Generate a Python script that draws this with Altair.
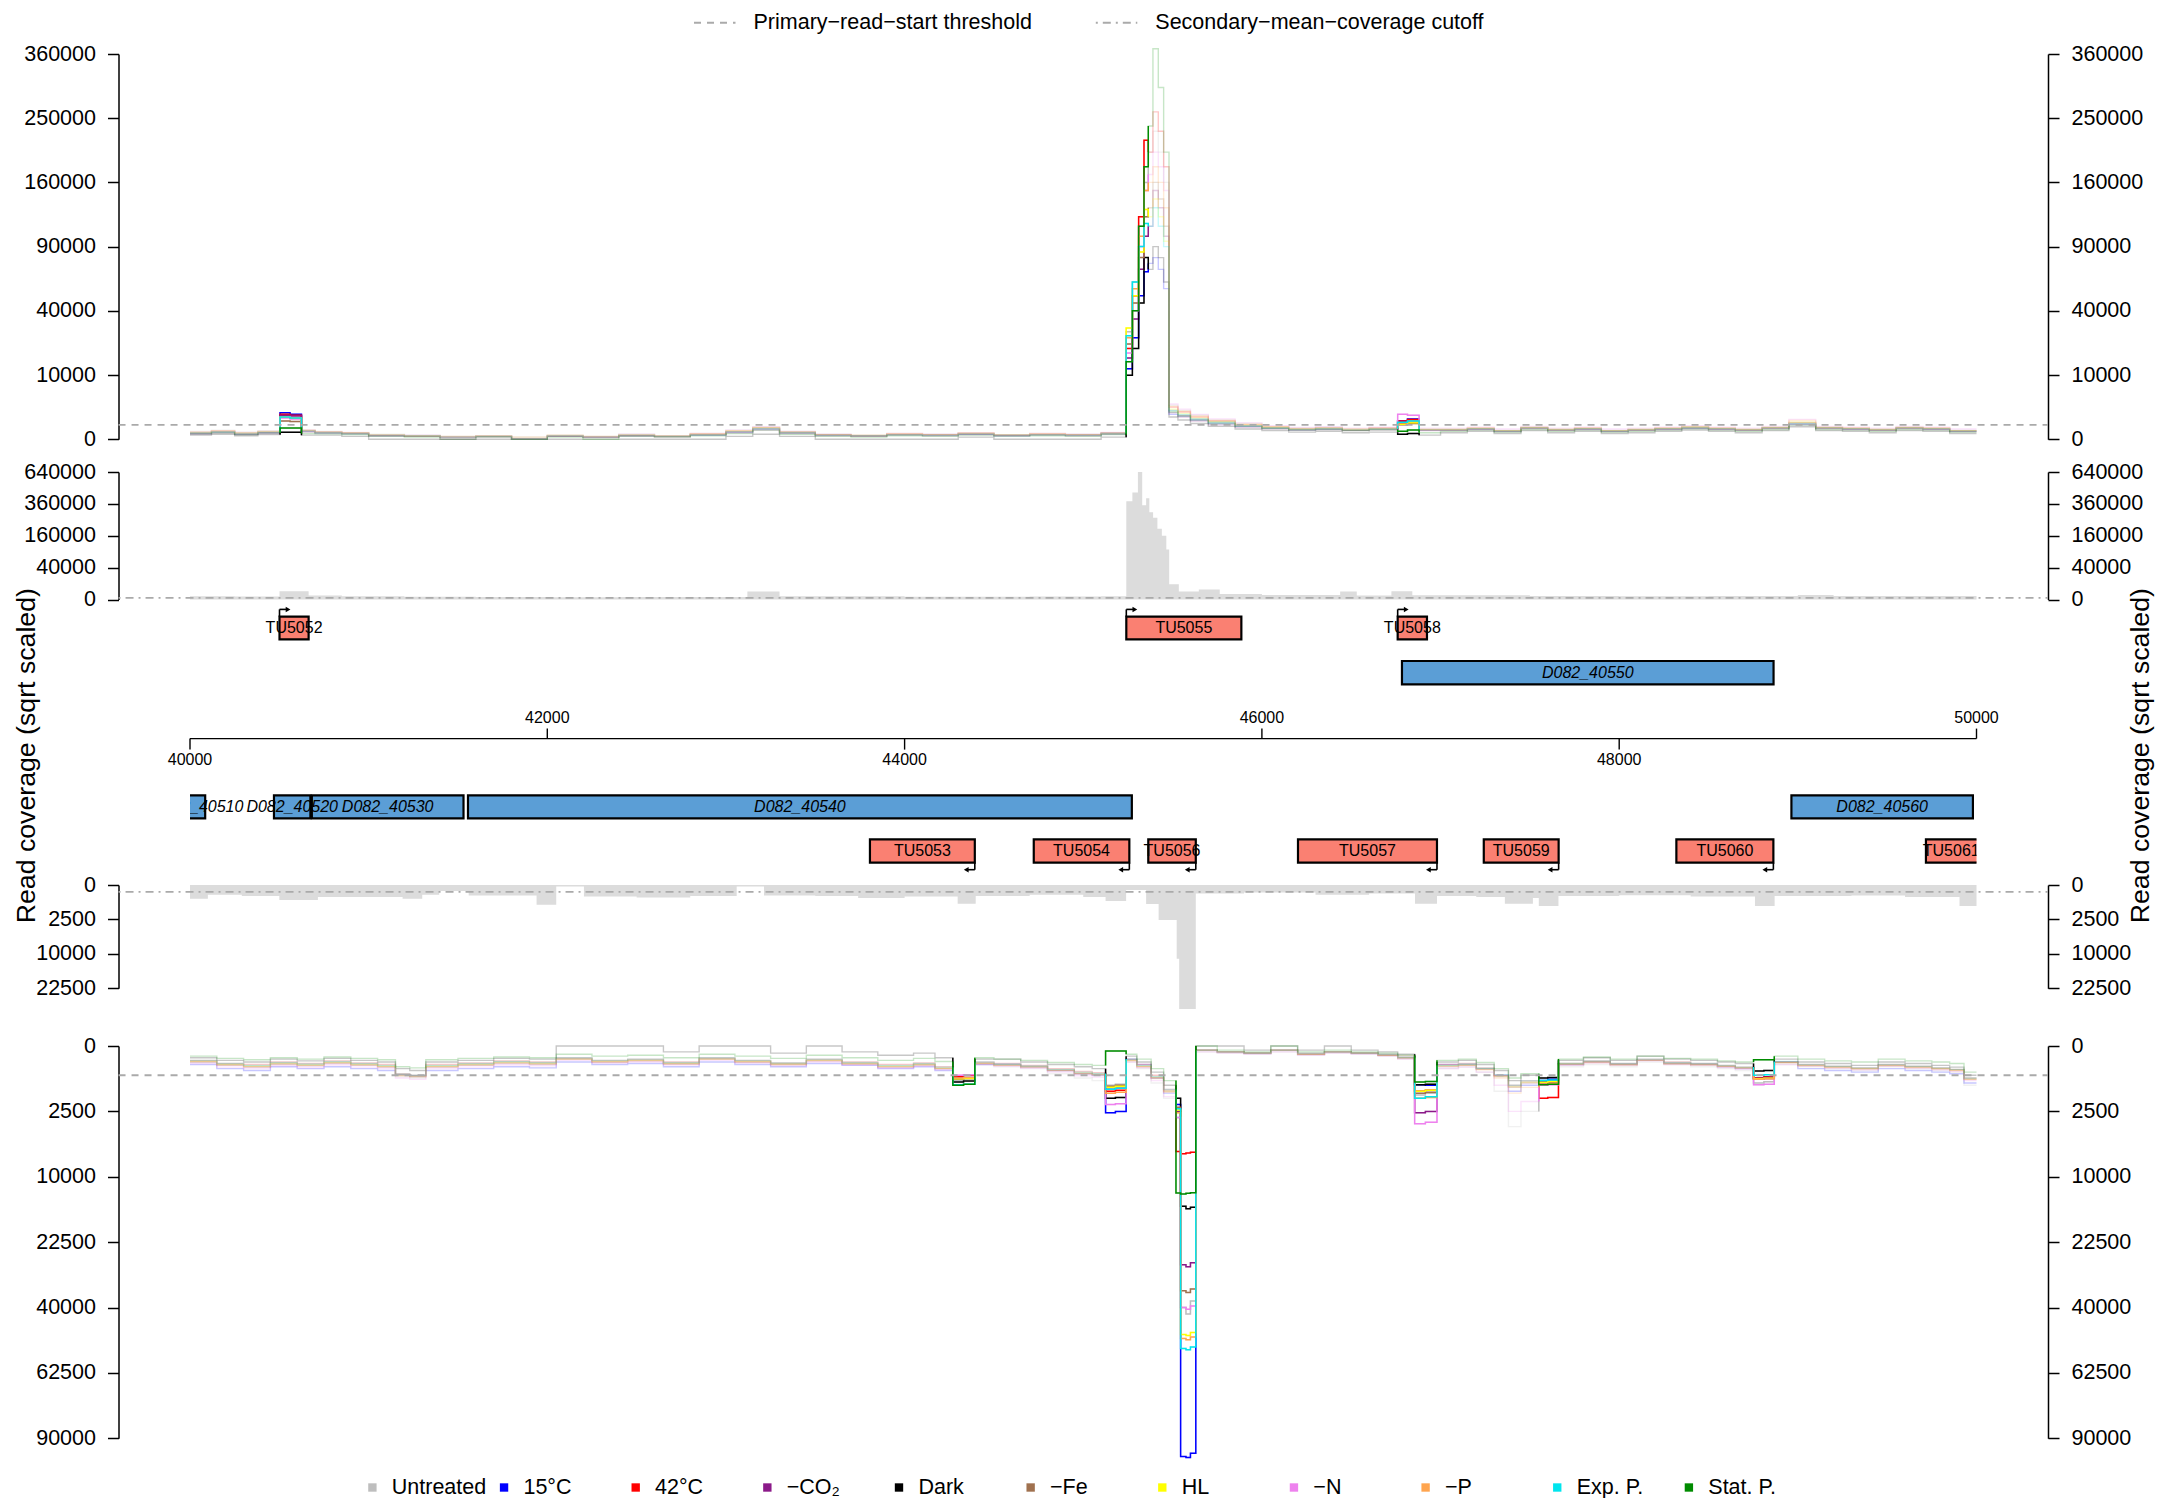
import altair as alt
import pandas as pd

FONT = "Liberation Sans"
Y_TITLE = "Read coverage (sqrt scaled)"

# ---------------- categories / colours ----------------
CONDITIONS = ["Untreated", "15°C", "42°C", "−CO₂", "Dark", "−Fe", "HL", "−N", "−P", "Exp. P.", "Stat. P."]
COLORS = ["#bebebe", "#0000ff", "#ff0000", "#8b1a89", "#000000", "#a0714f",
          "#ffff00", "#ee82ee", "#ffa54f", "#00e5ee", "#008b00"]
THRESHOLD_LABELS = ["Primary−read−start threshold", "Secondary−mean−coverage cutoff"]
PRIMARY_THRESHOLD = 500
SECONDARY_CUTOFF = 100

FWD_TICKS = [0, 10000, 40000, 90000, 160000, 250000, 360000]
FWD_MEAN_TICKS = [0, 40000, 160000, 360000, 640000]
REV_MEAN_TICKS = [0, 2500, 10000, 22500]
REV_TICKS = [0, 2500, 10000, 22500, 40000, 62500, 90000]
GENOME_TICKS = [40000, 42000, 44000, 46000, 48000, 50000]
VIEW = [40000, 50000]
XLIM = [39600, 50400]

# ---------------- forward strand read starts ----------------
FWD_X = [40000, 40120, 40250, 40380, 40504, 40560, 40624, 40700, 40850,
         41000, 41200, 41400, 41600, 41800, 42000, 42200, 42400, 42600, 42800, 43000,
         43150, 43300, 43500, 43700, 43900, 44100, 44300, 44500, 44700, 44900, 45100,
         45240, 45275, 45310, 45340, 45364,
         45390, 45420, 45450, 45480,
         45530, 45600, 45700, 45850, 46000, 46150, 46300, 46450, 46600,
         46760, 46815, 46880,
         47000, 47150, 47300, 47450, 47600, 47750, 47900, 48050, 48200, 48350, 48500,
         48650, 48800, 48950, 49100, 49250, 49400, 49550, 49700, 49850, 50000]
FWD_WINDOWS = [(40504, 40624), (45240, 45364), (46760, 46880)]

FWD_UNTREATED = [150, 200, 120, 180, 1300, 1100, 200, 150, 100,
                 60, 40, 20, 30, 10, 40, 20, 60, 30, 80, 200,
                 350, 150, 60, 40, 80, 60, 100, 50, 80, 60, 100,
                 28000, 60000, 110000, 160000, 200000,
                 230000, 200000, 160000, 2800,
                 2000, 1400, 900, 600, 400, 300, 350, 250, 300,
                 700, 900, 250,
                 250, 300, 200, 350, 250, 300, 200, 250, 300, 400, 300, 250, 350, 700, 350, 300, 250, 350, 300, 200, 200]
FWD_15C = [80, 120, 60, 100, 1700, 1500, 150, 100, 80,
           30, 20, 10, 20, 0, 20, 10, 30, 20, 40, 120,
           250, 100, 40, 30, 50, 40, 60, 30, 50, 40, 80,
           12000, 25000, 50000, 68000, 75000,
           80000, 70000, 55000, 1500,
           1300, 900, 600, 400, 300, 200, 250, 200, 250,
           800, 1000, 200,
           200, 250, 150, 300, 200, 250, 150, 200, 250, 300, 250, 200, 300, 550, 300, 250, 200, 300, 250, 150, 150]
FWD_42C = [100, 150, 80, 120, 1500, 1400, 180, 120, 90,
           40, 30, 10, 20, 0, 30, 10, 40, 20, 60, 150,
           300, 120, 50, 30, 60, 50, 80, 40, 60, 50, 90,
           20000, 50000, 120000, 217000, 200000,
           260000, 230000, 180000, 2500,
           1800, 1200, 800, 500, 350, 250, 300, 200, 300,
           800, 950, 220,
           220, 280, 180, 320, 220, 280, 180, 220, 280, 350, 280, 220, 320, 650, 320, 280, 220, 320, 280, 180, 180]
FWD_CO2 = [60, 90, 50, 80, 1400, 1300, 120, 90, 70,
           30, 20, 0, 10, 0, 20, 10, 30, 10, 40, 100,
           200, 80, 30, 20, 40, 30, 50, 30, 40, 30, 60,
           16000, 35000, 70000, 100000, 110000,
           150000, 130000, 100000, 1700,
           1200, 800, 500, 350, 250, 200, 220, 180, 200,
           600, 750, 180,
           180, 220, 140, 260, 180, 220, 140, 180, 220, 280, 220, 180, 260, 500, 260, 220, 180, 260, 220, 140, 140]
FWD_DARK = [40, 60, 30, 50, 120, 120, 40, 40, 20,
            0, 0, 0, 0, 0, 0, 0, 0, 0, 0, 20,
            60, 20, 0, 0, 0, 0, 10, 0, 0, 0, 10,
            9900, 20000, 45000, 80000, 70000,
            90000, 80000, 60000, 1200,
            900, 600, 400, 250, 180, 120, 150, 100, 120,
            60, 80, 40,
            100, 150, 80, 180, 100, 150, 80, 100, 150, 200, 150, 100, 180, 380, 180, 150, 100, 180, 150, 80, 80]
FWD_FE = [90, 130, 70, 110, 800, 750, 150, 100, 80,
          30, 20, 10, 20, 0, 20, 10, 30, 20, 50, 130,
          260, 100, 40, 30, 50, 40, 70, 40, 50, 40, 80,
          22000, 45000, 80000, 120000, 130000,
          160000, 140000, 110000, 2000,
          1400, 1000, 700, 450, 300, 220, 260, 200, 240,
          500, 600, 200,
          200, 260, 160, 300, 200, 260, 160, 200, 260, 320, 260, 200, 300, 600, 300, 260, 200, 300, 260, 160, 160]
FWD_HL = [120, 170, 100, 150, 1200, 1100, 200, 130, 100,
          50, 30, 20, 30, 10, 40, 20, 50, 30, 70, 180,
          320, 130, 50, 40, 70, 50, 90, 50, 70, 50, 90,
          30000, 50000, 85000, 128000, 120000,
          140000, 120000, 95000, 2200,
          1600, 1100, 750, 500, 350, 260, 300, 230, 280,
          550, 650, 230,
          230, 290, 180, 330, 230, 290, 180, 230, 290, 360, 290, 230, 330, 700, 330, 290, 230, 330, 290, 180, 180]
FWD_N = [130, 180, 110, 160, 1100, 1000, 220, 140, 110,
         50, 40, 20, 30, 10, 40, 20, 60, 30, 80, 200,
         380, 150, 60, 40, 80, 60, 100, 50, 80, 60, 110,
         18000, 40000, 90000, 150000, 170000,
         200000, 180000, 150000, 3000,
         2200, 1500, 1000, 650, 450, 330, 380, 300, 350,
         1500, 1400, 300,
         300, 350, 250, 400, 300, 350, 250, 300, 350, 450, 350, 300, 400, 950, 400, 350, 300, 400, 350, 250, 250]
FWD_P = [110, 160, 90, 140, 1200, 1100, 180, 120, 90,
         40, 30, 10, 20, 0, 30, 10, 40, 20, 60, 160,
         340, 120, 50, 30, 60, 50, 80, 40, 60, 50, 90,
         25000, 55000, 100000, 150000, 160000,
         180000, 160000, 130000, 2600,
         1900, 1300, 850, 550, 380, 280, 320, 250, 300,
         650, 750, 230,
         230, 290, 180, 330, 230, 290, 180, 230, 290, 360, 290, 230, 330, 850, 330, 290, 230, 330, 290, 180, 180]
FWD_EXP = [100, 140, 80, 120, 1190, 1100, 170, 110, 80,
           40, 30, 10, 20, 0, 30, 10, 40, 20, 50, 140,
           280, 110, 40, 30, 50, 40, 70, 40, 50, 40, 80,
           26000, 60000, 90000, 113000, 110000,
           130000, 110000, 90000, 2000,
           1500, 1000, 700, 450, 320, 240, 280, 210, 260,
           700, 800, 210,
           210, 270, 170, 310, 210, 270, 170, 210, 270, 330, 270, 210, 310, 600, 310, 270, 210, 310, 270, 170, 170]
FWD_STAT = [70, 100, 50, 90, 300, 300, 80, 70, 50,
            20, 10, 0, 10, 0, 10, 0, 20, 10, 30, 80,
            200, 60, 20, 10, 30, 20, 40, 20, 30, 20, 50,
            14600, 40000, 110000, 180000, 238000,
            370000, 300000, 200000, 1800,
            1300, 900, 600, 400, 280, 200, 230, 180, 220,
            150, 200, 100,
            150, 200, 120, 230, 150, 200, 120, 150, 200, 260, 200, 150, 230, 480, 230, 200, 150, 230, 200, 120, 120]

# ---------------- reverse strand read starts ----------------
REV_X = [40000, 40150, 40300, 40450, 40600, 40750, 40900, 41050, 41150, 41230, 41320, 41500, 41700, 41900,
         42050, 42250, 42450, 42650, 42850, 43050, 43250, 43450, 43650, 43850, 44050, 44170,
         44270, 44330, 44393,
         44500, 44650, 44800, 44950, 45050,
         45125, 45180, 45240,
         45300, 45380, 45450,
         45519, 45545, 45575, 45600, 45630,
         45750, 45900, 46050, 46200, 46350, 46500, 46650, 46760,
         46855, 46915, 46980,
         47100, 47200, 47300, 47380, 47450,
         47550, 47600, 47660,
         47800, 47950, 48100, 48250, 48400, 48550, 48650,
         48752, 48810, 48868,
         49000, 49150, 49300, 49450, 49600, 49750, 49850, 49930, 50000]
REV_WINDOWS = [(44270, 44393), (45125, 45240), (45519, 45630), (46855, 46980), (47550, 47660), (48752, 48868)]

REV_UNTREATED = [150, 200, 250, 180, 220, 160, 200, 250, 550, 600, 250, 200, 150, 180,
                 100, 150, 120, 180, 100, 150, 200, 120, 180, 250, 200, 300,
                 700, 650, 200,
                 250, 300, 450, 600, 700,
                 900, 850, 150,
                 300, 800, 1600,
                 3000, 40000, 42000, 38000, 20,
                 30, 40, 20, 50, 30, 40, 60, 100,
                 1400, 1300, 300,
                 250, 400, 1200, 3800, 2500,
                 900, 850, 250,
                 200, 250, 150, 200, 250, 300, 350,
                 800, 750, 200,
                 250, 300, 350, 250, 300, 350, 400, 900, 900]
REV_15C = [200, 300, 350, 250, 300, 250, 300, 350, 500, 550, 350, 300, 250, 280,
           150, 200, 180, 250, 150, 200, 250, 180, 220, 300, 250, 350,
           650, 600, 200,
           200, 250, 350, 450, 500,
           2600, 2500, 100,
           200, 600, 1300,
           2000, 98600, 99000, 97000, 10,
           20, 30, 10, 40, 20, 30, 50, 80,
           880, 900, 200,
           200, 300, 500, 1200, 900,
           700, 650, 200,
           150, 200, 120, 180, 200, 250, 300,
           600, 550, 150,
           300, 350, 400, 300, 350, 400, 450, 800, 800]
REV_42C = [120, 180, 200, 150, 180, 130, 170, 200, 450, 500, 200, 170, 130, 150,
           80, 120, 100, 150, 80, 120, 170, 100, 150, 200, 170, 250,
           550, 500, 150,
           180, 220, 300, 380, 420,
           1200, 1150, 100,
           200, 500, 1100,
           6500, 6800, 6700, 6600, 10,
           20, 30, 10, 30, 20, 30, 40, 60,
           1200, 1150, 200,
           180, 280, 500, 900, 700,
           1600, 1550, 180,
           130, 180, 100, 150, 180, 220, 260,
           600, 560, 150,
           200, 240, 280, 200, 240, 280, 320, 600, 600]
REV_CO2 = [150, 220, 260, 200, 230, 180, 220, 260, 480, 520, 260, 220, 180, 200,
           100, 150, 130, 190, 100, 150, 200, 130, 190, 260, 210, 300,
           600, 580, 180,
           220, 260, 350, 450, 480,
           1100, 1050, 120,
           250, 600, 1200,
           2500, 28000, 28500, 27500, 10,
           20, 30, 10, 40, 20, 30, 50, 80,
           2600, 2500, 250,
           220, 320, 550, 1000, 800,
           800, 780, 200,
           150, 200, 120, 180, 200, 240, 280,
           650, 620, 160,
           220, 260, 300, 220, 260, 300, 340, 650, 650]
REV_DARK = [80, 120, 150, 100, 130, 90, 120, 150, 300, 350, 150, 120, 90, 100,
            0, 0, 0, 20, 0, 0, 30, 0, 20, 50, 30, 80,
            760, 720, 100,
            100, 150, 200, 250, 300,
            1600, 1550, 60,
            150, 400, 900,
            1600, 15000, 15500, 15200, 0,
            0, 10, 0, 10, 0, 10, 20, 40,
            880, 850, 150,
            120, 200, 350, 700, 500,
            600, 580, 120,
            80, 120, 60, 100, 120, 150, 180,
            365, 350, 100,
            150, 180, 220, 150, 180, 220, 260, 500, 500]
REV_FE = [130, 190, 230, 170, 200, 150, 190, 230, 470, 520, 230, 190, 150, 170,
          90, 130, 110, 170, 90, 130, 180, 110, 170, 230, 190, 280,
          620, 600, 170,
          200, 240, 330, 420, 460,
          950, 900, 110,
          230, 560, 1150,
          2200, 35000, 35500, 34500, 10,
          20, 30, 10, 40, 20, 30, 50, 80,
          1300, 1250, 220,
          200, 300, 520, 950, 750,
          750, 720, 180,
          140, 190, 110, 170, 190, 230, 270,
          620, 600, 150,
          210, 250, 290, 210, 250, 290, 330, 620, 620]
REV_HL = [140, 200, 240, 180, 210, 160, 200, 240, 500, 540, 240, 200, 160, 180,
          100, 140, 120, 180, 100, 140, 190, 120, 180, 240, 200, 290,
          640, 620, 180,
          210, 250, 340, 430, 470,
          1000, 950, 120,
          240, 580, 1200,
          2400, 48700, 49000, 48000, 10,
          20, 30, 10, 40, 20, 30, 50, 80,
          1200, 1150, 230,
          210, 310, 540, 980, 780,
          780, 750, 190,
          150, 200, 120, 180, 200, 240, 280,
          630, 610, 160,
          220, 260, 300, 220, 260, 300, 340, 640, 640]
REV_N = [180, 260, 300, 230, 270, 210, 260, 300, 600, 650, 300, 260, 210, 230,
         120, 170, 150, 210, 120, 170, 230, 150, 210, 290, 240, 330,
         500, 480, 200,
         240, 290, 400, 520, 560,
         2000, 1950, 150,
         280, 700, 1500,
         3000, 40000, 40500, 39500, 20,
         30, 40, 20, 50, 30, 40, 60, 100,
         3530, 3400, 300,
         260, 400, 900, 2500, 1800,
         900, 880, 220,
         170, 220, 130, 200, 220, 270, 310,
         882, 850, 200,
         240, 290, 330, 240, 290, 330, 380, 700, 700]
REV_P = [140, 210, 250, 190, 220, 170, 210, 250, 520, 560, 250, 210, 170, 190,
         100, 150, 130, 190, 100, 150, 200, 130, 190, 250, 210, 300,
         600, 580, 180,
         220, 260, 350, 450, 490,
         1300, 1250, 130,
         250, 620, 1250,
         2600, 50000, 50500, 49500, 10,
         20, 30, 10, 40, 20, 30, 50, 80,
         1600, 1550, 240,
         220, 330, 600, 1300, 1000,
         850, 820, 200,
         160, 210, 120, 190, 210, 250, 290,
         650, 630, 160,
         230, 270, 310, 230, 270, 310, 350, 660, 660]
REV_EXP = [120, 180, 220, 160, 190, 140, 180, 220, 460, 500, 220, 180, 140, 160,
           80, 120, 100, 160, 80, 120, 170, 100, 160, 220, 180, 260,
           880, 850, 150,
           190, 230, 320, 400, 440,
           1100, 1050, 100,
           220, 540, 1100,
           2300, 53500, 54000, 53000, 10,
           20, 30, 10, 30, 20, 30, 40, 70,
           1600, 1500, 220,
           190, 290, 480, 900, 700,
           700, 680, 180,
           130, 180, 100, 160, 180, 220, 260,
           500, 480, 140,
           200, 240, 280, 200, 240, 280, 320, 600, 600]
REV_STAT = [60, 90, 110, 80, 100, 70, 90, 110, 250, 280, 110, 90, 70, 80,
            40, 60, 50, 80, 40, 60, 90, 50, 80, 120, 90, 140,
            900, 860, 80,
            100, 120, 160, 200, 220,
            15, 15, 40,
            100, 300, 700,
            12650, 12800, 12700, 12600, 0,
            10, 20, 0, 20, 10, 20, 30, 50,
            760, 740, 120,
            100, 160, 300, 600, 450,
            880, 860, 100,
            70, 100, 60, 90, 100, 130, 150,
            112, 110, 60,
            100, 130, 150, 100, 130, 150, 180, 400, 400]

# ---------------- mean coverage ----------------
FWD_MEAN_X = [40000, 40250, 40501, 40664, 40850, 41200, 41600, 42000, 42400, 43120, 43300, 44000, 44700,
              45100, 45241, 45275, 45306, 45330, 45352, 45370, 45391, 45415, 45440, 45465, 45481, 45535,
              45647, 45764, 46000, 46438, 46531, 46725, 46842, 47500, 48000, 48500, 49000, 49200, 50000]
FWD_MEAN_Y = [400, 350, 2700, 600, 400, 300, 250, 200, 250, 2500, 400, 300, 350,
              400, 381000, 450000, 640000, 350000, 403000, 300000, 263000, 197000, 160000, 98000, 9200, 2500,
              3900, 1200, 800, 2500, 600, 2700, 700, 500, 400, 450, 800, 450, 450]
REV_MEAN_X = [40000, 40100, 40290, 40500, 40716, 41190, 41300, 41395, 41560, 41940, 42050, 42205, 42500,
              42800, 43060, 43213, 43500, 43740, 44000, 44297, 44398, 44700, 45000, 45125, 45240, 45352,
              45422, 45523, 45537, 45630, 45900, 46300, 46600, 46857, 46980, 47200, 47360, 47517, 47550,
              47660, 48000, 48400, 48760, 48870, 49300, 49600, 49905, 50000]
REV_MEAN_Y = [395, 198, 255, 474, 300, 395, 198, 76, 230, 817, 5, 280, 330,
              250, 5, 230, 260, 350, 280, 745, 250, 200, 300, 540, 53, 760,
              2580, 11500, 32400, 150, 120, 200, 150, 745, 250, 300, 745, 350, 930,
              250, 220, 280, 930, 260, 230, 300, 930, 930]

# ---------------- annotation ----------------
FWD_TU_NAMES = ["TU5052", "TU5055", "TU5058"]
FWD_TU_START = [40501, 45241, 46760]
FWD_TU_END = [40664, 45885, 46924]
FWD_GENE_NAMES = ["D082_40550"]
FWD_GENE_START = [46784]
FWD_GENE_END = [48864]
REV_GENE_NAMES = ["D082_40510", "D082_40520", "D082_40530", "D082_40540", "D082_40560"]
REV_GENE_START = [39700, 40470, 40682, 41556, 48964]
REV_GENE_END = [40085, 40674, 41531, 45272, 49980]
REV_TU_NAMES = ["TU5053", "TU5054", "TU5056", "TU5057", "TU5059", "TU5060", "TU5061"]
REV_TU_START = [43806, 44723, 45364, 46202, 47242, 48320, 49717]
REV_TU_END = [44393, 45258, 45630, 46980, 47661, 48863, 50150]

FWD_SERIES = dict(zip(CONDITIONS, [FWD_UNTREATED, FWD_15C, FWD_42C, FWD_CO2, FWD_DARK, FWD_FE,
                                   FWD_HL, FWD_N, FWD_P, FWD_EXP, FWD_STAT]))
REV_SERIES = dict(zip(CONDITIONS, [REV_UNTREATED, REV_15C, REV_42C, REV_CO2, REV_DARK, REV_FE,
                                   REV_HL, REV_N, REV_P, REV_EXP, REV_STAT]))

# ---------------- layout (pixels) ----------------
PLOT_W = 1786.5
PAD_TOP = 3
H_TOPLEG, H_P1, GAP1, H_P2, H_ANN, H_P3, GAP2, H_P4, H_BOTLEG = 41.7, 385.2, 31.9, 127.5, 284.7, 103.3, 56.7, 392.3, 56
AXIS_OFFSET = 71.5
THRESH_COLOR = "#aaaaaa"
DASH = [7, 6]
DASHDOT = [2, 5, 8, 5]
AREA_GREY = "#dcdcdc"
SALMON = "#fa8072"
GENE_BLUE = "#5b9ed6"
FADED_OPACITY = 0.22
ROWS = {"fwd_tu": (16.7, 39.4), "fwd_gene": (61.0, 84.4), "rev_gene": (195.4, 218.4), "rev_tu": (239.4, 262.7)}
AXIS_Y, TICK_UP, TICK_DOWN, LAB_UP, LAB_DOWN = 138.6, 10, 11, 118.2, 159.7
ARROW_FWD_Y, ARROW_REV_Y, ARROW_LEN, HEAD_POS = 9.4, 269.7, 40, 48

XSC = alt.Scale(domain=VIEW, nice=False, zero=False)
X_ENC = alt.X("x:Q", scale=XSC, axis=None)
COLOR = alt.Color("cond:N", scale=alt.Scale(domain=CONDITIONS, range=COLORS), legend=None)


def y_axis(ticks, orient):
    return alt.Axis(orient=orient, values=ticks, format="d", offset=AXIS_OFFSET,
                    tickSize=11, tickWidth=1.5, tickColor="black",
                    domainColor="black", domainWidth=1.5,
                    labelFont=FONT, labelFontSize=21.5, labelColor="black",
                    labelPadding=12, labelFlush=False, labelOverlap=False,
                    grid=False, title=None)


def series_frame(xs, table):
    rows = []
    for cond in CONDITIONS:
        for i, (x, v) in enumerate(zip(xs, table[cond])):
            rows.append({"cond": cond, "x": x, "v": v, "o": i})
    return pd.DataFrame(rows)


def window_frame(xs, table, windows):
    rows = []
    for cond in CONDITIONS:
        vals = table[cond]
        for w, (a, b) in enumerate(windows):
            before = [v for x, v in zip(xs, vals) if x < a]
            pts = [(a, before[-1])] if before else []
            pts += [(x, v) for x, v in zip(xs, vals) if a <= x <= b]
            for k, (x, v) in enumerate(pts):
                rows.append({"cond": cond, "seg": f"{cond}-{w}", "x": x, "v": v, "o": k})
    return pd.DataFrame(rows)


def threshold_rule(value, dash, ysc, axis):
    df = pd.DataFrame({"x": [XLIM[0]], "x2": [XLIM[1]], "v": [value]})
    return alt.Chart(df).mark_rule(color=THRESH_COLOR, strokeWidth=1.8, strokeDash=dash).encode(
        x=X_ENC, x2=alt.X2("x2"), y=alt.Y("v:Q", scale=ysc, axis=axis))


def read_start_panel(xs, table, windows, ticks, reverse, height):
    ysc = alt.Scale(type="sqrt", domain=[0, ticks[-1]], reverse=reverse, nice=False)
    faded = alt.Chart(series_frame(xs, table)).mark_line(
        interpolate="step-after", strokeWidth=1.4, opacity=FADED_OPACITY).encode(
        x=X_ENC, y=alt.Y("v:Q", scale=ysc, axis=y_axis(ticks, "left")),
        color=COLOR, detail="cond:N", order="o:Q")
    strong = alt.Chart(window_frame(xs, table, windows)).mark_line(
        interpolate="step-after", strokeWidth=1.5).encode(
        x=X_ENC, y=alt.Y("v:Q", scale=ysc, axis=None),
        color=COLOR, detail="seg:N", order="o:Q")
    rule = threshold_rule(PRIMARY_THRESHOLD, DASH, ysc, y_axis(ticks, "right"))
    return alt.layer(faded, strong, rule).resolve_scale(y="independent").properties(
        width=PLOT_W, height=height)


def mean_panel(xs, ys, ticks, reverse, height):
    ysc = alt.Scale(type="sqrt", domain=[0, ticks[-1]], reverse=reverse, nice=False)
    area = alt.Chart(pd.DataFrame({"x": xs, "v": ys})).mark_area(
        interpolate="step-after", color=AREA_GREY, opacity=1).encode(
        x=X_ENC, y=alt.Y("v:Q", scale=ysc, axis=y_axis(ticks, "left")))
    rule = threshold_rule(SECONDARY_CUTOFF, DASHDOT, ysc, y_axis(ticks, "right"))
    return alt.layer(area, rule).resolve_scale(y="independent").properties(width=PLOT_W, height=height)


# ---------------- annotation panel ----------------
def feature_rows(names, starts, ends, kind, row):
    y1, y2 = ROWS[row]
    out = []
    for n, s, e in zip(names, starts, ends):
        out.append({"name": n, "start": s, "end": e, "kind": kind, "y1": y1, "y2": y2,
                    "ly": (y1 + y2) / 2, "lx": (max(s, VIEW[0]) + min(e, VIEW[1])) / 2})
    return out


feat = pd.DataFrame(
    feature_rows(FWD_TU_NAMES, FWD_TU_START, FWD_TU_END, "TU", "fwd_tu")
    + feature_rows(FWD_GENE_NAMES, FWD_GENE_START, FWD_GENE_END, "gene", "fwd_gene")
    + feature_rows(REV_GENE_NAMES, REV_GENE_START, REV_GENE_END, "gene", "rev_gene")
    + feature_rows(REV_TU_NAMES, REV_TU_START, REV_TU_END, "TU", "rev_tu"))

arrows = []
for s in FWD_TU_START:
    if VIEW[0] <= s <= VIEW[1]:
        arrows.append({"x": s, "xe": s + ARROW_LEN, "xh": s + HEAD_POS, "yb": ROWS["fwd_tu"][0],
                       "ya": ARROW_FWD_Y, "dir": "fwd"})
for e in REV_TU_END:
    if VIEW[0] <= e <= VIEW[1]:
        arrows.append({"x": e, "xe": e - ARROW_LEN, "xh": e - HEAD_POS, "yb": ROWS["rev_tu"][1],
                       "ya": ARROW_REV_Y, "dir": "rev"})
arrows = pd.DataFrame(arrows)

gticks = pd.DataFrame({"x": GENOME_TICKS, "lab": [str(t) for t in GENOME_TICKS]})
up = [i % 2 == 1 for i in range(len(GENOME_TICKS))]
gticks["y1"] = AXIS_Y
gticks["y2"] = [AXIS_Y - TICK_UP if u else AXIS_Y + TICK_DOWN for u in up]
gticks["ly"] = [LAB_UP if u else LAB_DOWN for u in up]

ANN_Y = alt.Scale(domain=[0, H_ANN], reverse=True, nice=False, zero=False)
TITLE_COMMON = dict(title=Y_TITLE, labels=False, ticks=False, domain=False, grid=False,
                    titleY=155.2, titleAngle=270, titleAlign="center", titleBaseline="middle",
                    titleFont=FONT, titleFontSize=26.7, titleFontWeight="normal", titleColor="black")
ANN_AXIS_L = alt.Axis(orient="left", titleX=-164, **TITLE_COMMON)
ANN_AXIS_R = alt.Axis(orient="right", titleX=163.5, **TITLE_COMMON)

fill_scale = alt.Scale(domain=["TU", "gene"], range=[SALMON, GENE_BLUE])
boxes = alt.Chart(feat).mark_rect(clip=True, stroke="black", strokeWidth=2.2).encode(
    x=alt.X("start:Q", scale=XSC, axis=None), x2=alt.X2("end"),
    y=alt.Y("y1:Q", scale=ANN_Y, axis=ANN_AXIS_L), y2=alt.Y2("y2"),
    fill=alt.Fill("kind:N", scale=fill_scale, legend=None))
tu_labels = alt.Chart(feat).transform_filter(alt.datum.kind == "TU").mark_text(
    clip=True, font=FONT, fontSize=16, color="black", baseline="middle").encode(
    x=alt.X("lx:Q", scale=XSC, axis=None), y=alt.Y("ly:Q", scale=ANN_Y, axis=ANN_AXIS_L), text="name:N")
gene_labels = alt.Chart(feat).transform_filter(alt.datum.kind == "gene").mark_text(
    clip=True, font=FONT, fontSize=16, fontStyle="italic", color="black", baseline="middle").encode(
    x=alt.X("lx:Q", scale=XSC, axis=None), y=alt.Y("ly:Q", scale=ANN_Y, axis=ANN_AXIS_L), text="name:N")
arrow_v = alt.Chart(arrows).mark_rule(color="black", strokeWidth=1.6).encode(
    x=alt.X("x:Q", scale=XSC, axis=None), y=alt.Y("yb:Q", scale=ANN_Y, axis=ANN_AXIS_L), y2=alt.Y2("ya"))
arrow_h = alt.Chart(arrows).mark_rule(color="black", strokeWidth=1.6).encode(
    x=alt.X("x:Q", scale=XSC, axis=None), x2=alt.X2("xe"), y=alt.Y("ya:Q", scale=ANN_Y, axis=ANN_AXIS_L))
arrow_head = alt.Chart(arrows).mark_point(filled=True, size=30, color="black", opacity=1).encode(
    x=alt.X("xh:Q", scale=XSC, axis=None), y=alt.Y("ya:Q", scale=ANN_Y, axis=ANN_AXIS_L),
    shape=alt.Shape("dir:N", scale=alt.Scale(domain=["fwd", "rev"], range=["triangle-right", "triangle-left"]),
                    legend=None))
tick_marks = alt.Chart(gticks).mark_rule(color="black", strokeWidth=1.4).encode(
    x=alt.X("x:Q", scale=XSC, axis=None), y=alt.Y("y1:Q", scale=ANN_Y, axis=ANN_AXIS_L), y2=alt.Y2("y2"))
tick_labels = alt.Chart(gticks).mark_text(font=FONT, fontSize=16, color="black", baseline="middle").encode(
    x=alt.X("x:Q", scale=XSC, axis=None), y=alt.Y("ly:Q", scale=ANN_Y, axis=ANN_AXIS_L), text="lab:N")
genome_axis = alt.Chart(pd.DataFrame({"x": [VIEW[0]], "x2": [VIEW[1]], "y": [AXIS_Y]})).mark_rule(
    color="black", strokeWidth=1.4).encode(
    x=alt.X("x:Q", scale=XSC, axis=None), x2=alt.X2("x2"), y=alt.Y("y:Q", scale=ANN_Y, axis=ANN_AXIS_R))

inner = alt.layer(boxes, tu_labels, gene_labels, arrow_v, arrow_h, arrow_head, tick_marks, tick_labels)
annotation = alt.layer(inner, genome_axis).resolve_scale(y="independent").properties(width=PLOT_W, height=H_ANN)

# ---------------- legends ----------------
TOP_X0, TOP_PITCH, TOP_SYM, TOP_TEXT_DX, TOP_Y = 504, 401.8, 41.5, 59.5, 10.75
top_df = pd.DataFrame({"label": THRESHOLD_LABELS, "i": list(range(len(THRESHOLD_LABELS)))})
top_df["i2"] = top_df["i"] + TOP_SYM / TOP_PITCH
top_x = alt.X("i:Q", scale=alt.Scale(domain=[-TOP_X0 / TOP_PITCH, (PLOT_W - TOP_X0) / TOP_PITCH],
                                     nice=False, zero=False), axis=None)
top_sym = alt.Chart(top_df).mark_rule(color=THRESH_COLOR, strokeWidth=1.8).encode(
    x=top_x, x2=alt.X2("i2"), y=alt.value(TOP_Y),
    strokeDash=alt.StrokeDash("label:N", scale=alt.Scale(domain=THRESHOLD_LABELS, range=[DASH, DASHDOT]),
                              legend=None))
top_txt = alt.Chart(top_df).mark_text(align="left", baseline="middle", dx=TOP_TEXT_DX, font=FONT,
                                      fontSize=21.5, color="black").encode(
    x=top_x, y=alt.value(TOP_Y), text="label:N")
top_legend = alt.layer(top_sym, top_txt).properties(width=PLOT_W, height=H_TOPLEG)

LEG_X0, LEG_PITCH, LEG_TEXT_DX, LEG_Y = 182.4, 131.65, 19.4, 48.5
leg_df = pd.DataFrame({"cond": CONDITIONS, "i": list(range(len(CONDITIONS)))})
leg_x = alt.X("i:Q", scale=alt.Scale(domain=[-LEG_X0 / LEG_PITCH, (PLOT_W - LEG_X0) / LEG_PITCH],
                                     nice=False, zero=False), axis=None)
leg_sq = alt.Chart(leg_df).mark_square(size=70, filled=True, opacity=1).encode(
    x=leg_x, y=alt.value(LEG_Y), color=COLOR)
leg_txt = alt.Chart(leg_df).mark_text(align="left", baseline="middle", dx=LEG_TEXT_DX, font=FONT,
                                      fontSize=21.5, color="black").encode(
    x=leg_x, y=alt.value(LEG_Y), text="cond:N")
bottom_legend = alt.layer(leg_sq, leg_txt).properties(width=PLOT_W, height=H_BOTLEG)


def spacer(h):
    return alt.Chart(pd.DataFrame({"s": [0]})).mark_point(opacity=0).encode(
        x=alt.X("s:Q", axis=None), y=alt.Y("s:Q", axis=None)).properties(width=PLOT_W, height=h)


p1 = read_start_panel(FWD_X, FWD_SERIES, FWD_WINDOWS, FWD_TICKS, False, H_P1)
p2 = mean_panel(FWD_MEAN_X, FWD_MEAN_Y, FWD_MEAN_TICKS, False, H_P2)
p3 = mean_panel(REV_MEAN_X, REV_MEAN_Y, REV_MEAN_TICKS, True, H_P3)
p4 = read_start_panel(REV_X, REV_SERIES, REV_WINDOWS, REV_TICKS, True, H_P4)

chart = alt.vconcat(top_legend, p1, spacer(GAP1), p2, annotation, p3, spacer(GAP2), p4, bottom_legend,
                    spacing=0, bounds="flush").resolve_scale(
    x="independent", y="independent").properties(
    padding={"left": 4, "top": PAD_TOP, "right": 0, "bottom": 0}, background="white").configure(
    font=FONT).configure_view(stroke="transparent", strokeWidth=0)

chart.save("out.html", embed_options={"renderer": "svg", "actions": False})
